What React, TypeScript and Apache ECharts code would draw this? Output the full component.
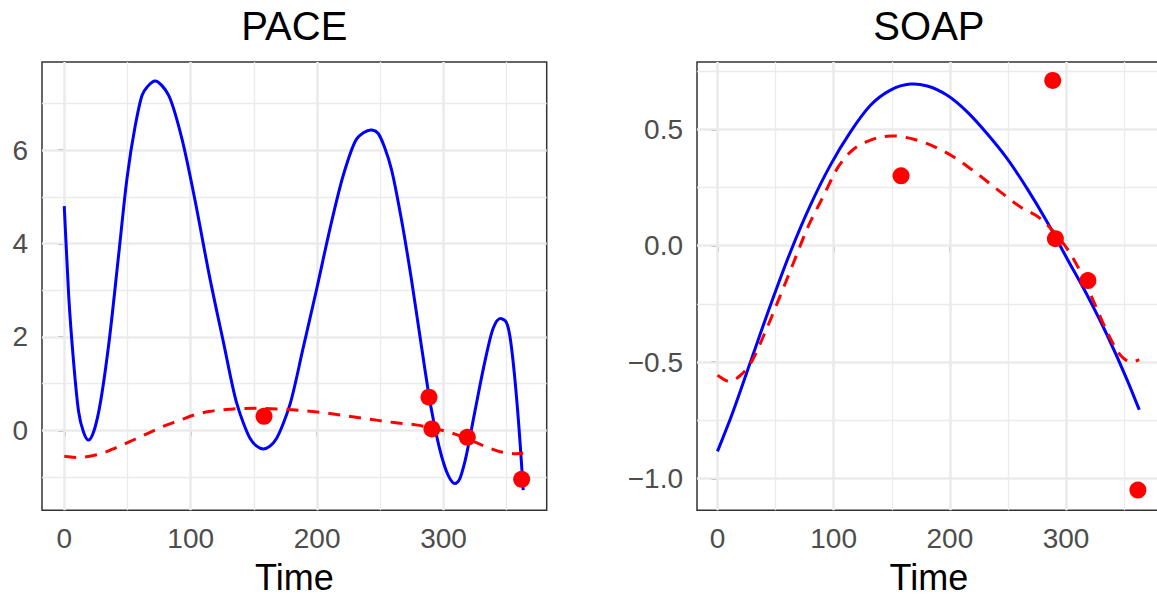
import React, { useEffect, useRef } from "react";
import * as echarts from "echarts";

// ---- data ----
const pointTime = [158, 288.5, 290.8, 318.8, 361.8];
const pointValue = [0.3, 0.71, 0.03, -0.15, -1.05];

const paceTime = [0, 3.5, 7.4, 11.4, 15.3, 19.3, 23.4, 27.2, 35.1, 43, 49.6, 56.2, 61.5, 66.2, 72, 77.3, 82.6, 93.1, 103.7, 114.5, 125.8, 136.4, 141.6, 146.9, 152.2, 157.4, 162.7, 168, 173.3, 178.6, 189.1, 199.7, 210.2, 220.7, 231.3, 236.6, 243.2, 248.2, 253.5, 258.7, 266.6, 274.5, 282.4, 290.3, 298.3, 303.6, 308.9, 312.8, 316.8, 324.7, 332.6, 339.2, 345.7, 352.4, 357.6, 361.6, 363];
const paceValue = [4.8, 2.89, 1.46, 0.39, -0.04, -0.21, -0.02, 0.39, 1.82, 3.75, 5.39, 6.53, 7.17, 7.37, 7.48, 7.38, 7.17, 6.24, 4.89, 3.35, 1.9, 0.58, 0.16, -0.17, -0.34, -0.4, -0.34, -0.17, 0.15, 0.56, 1.78, 3.03, 4.32, 5.46, 6.24, 6.37, 6.43, 6.36, 6.05, 5.6, 4.53, 3.25, 1.82, 0.46, -0.54, -0.96, -1.14, -1.04, -0.68, 0.39, 1.46, 2.18, 2.39, 2.03, 0.75, -0.68, -1.28];

const soapTime = [0, 11.2, 28.4, 45.6, 62.8, 80, 97.2, 114.5, 131.7, 148.9, 166.1, 180.5, 197.7, 214.9, 232.1, 249.3, 266.5, 283.7, 300.9, 318.2, 335.4, 352.6, 363];
const soapValue = [-0.884, -0.743, -0.5, -0.256, -0.027, 0.174, 0.346, 0.489, 0.603, 0.668, 0.694, 0.686, 0.646, 0.575, 0.481, 0.374, 0.245, 0.102, -0.056, -0.213, -0.385, -0.578, -0.705];

const meanTime = [0, 9.8, 21.3, 28.4, 39.9, 54.2, 65.7, 77.2, 91.6, 103, 114.5, 131.7, 148.9, 169, 180.5, 203.4, 223.5, 243.5, 260.8, 278, 289.5, 300.9, 312.4, 323.9, 335.4, 346.8, 355.4, 363];
const meanValue = [-0.557, -0.583, -0.55, -0.507, -0.385, -0.213, -0.07, 0.073, 0.217, 0.331, 0.403, 0.453, 0.471, 0.457, 0.438, 0.381, 0.309, 0.231, 0.166, 0.116, 0.059, -0.013, -0.113, -0.242, -0.371, -0.471, -0.5, -0.49];

const xMajor = [0, 100, 200, 300];
const xMinor = [50, 150, 250, 350];
const paceYMajor = [0, 2, 4, 6];
const paceYMinor = [-1, 1, 3, 5, 7];
const soapYMajor = [-1, -0.5, 0, 0.5];
const soapYMinor = [-0.75, -0.25, 0.25, 0.75];

const panelTitles = ["PACE", "SOAP"];
const xTitle = "Time";

const FONT = "'Liberation Sans', Arial, Helvetica, sans-serif";

function zip(a: number[], b: number[]) {
  return a.map((v, i) => [v, b[i]]);
}

function fmtSigned(v: number, digits: number) {
  const s = Math.abs(v).toFixed(digits);
  return v < 0 ? "\u2212" + s : s;
}

// smooth cubic Hermite path through pixel points (curve drawn through the data)
function smoothPath(p: number[][]) {
  const n = p.length;
  const m: number[] = [];
  for (let i = 0; i < n; i++) {
    if (i === 0) m.push((p[1][1] - p[0][1]) / (p[1][0] - p[0][0]));
    else if (i === n - 1) m.push((p[n - 1][1] - p[n - 2][1]) / (p[n - 1][0] - p[n - 2][0]));
    else {
      const h0 = p[i][0] - p[i - 1][0];
      const h1 = p[i + 1][0] - p[i][0];
      const d0 = (p[i][1] - p[i - 1][1]) / h0;
      const d1 = (p[i + 1][1] - p[i][1]) / h1;
      m.push((h1 * d0 + h0 * d1) / (h0 + h1));
    }
  }
  let d = `M${p[0][0]},${p[0][1]}`;
  for (let i = 0; i < n - 1; i++) {
    const h = p[i + 1][0] - p[i][0];
    const c1x = p[i][0] + h / 3;
    const c1y = p[i][1] + (m[i] * h) / 3;
    const c2x = p[i + 1][0] - h / 3;
    const c2y = p[i + 1][1] - (m[i + 1] * h) / 3;
    d += `C${c1x},${c1y},${c2x},${c2y},${p[i + 1][0]},${p[i + 1][1]}`;
  }
  return d;
}

export default function App() {
  const ref = useRef<HTMLDivElement>(null);
  useEffect(() => {
    document.body.style.margin = "0";
    if (!ref.current) return;
    const chart = echarts.init(ref.current, null, { renderer: "svg" });

    const grids = [
      { left: 42, top: 62, width: 504.7, height: 448.3 },
      { left: 697, top: 62, width: 463.9, height: 448.3 },
    ];

    const xAxis = [0, 1].map((i) => ({
      type: "value",
      gridIndex: i,
      min: -17.6,
      max: 381.6,
      name: xTitle,
      nameLocation: "middle",
      nameGap: 49,
      nameTextStyle: { fontSize: 36, color: "#000", fontFamily: FONT },
      axisLine: { show: false },
      axisTick: { show: true, customValues: xMajor, length: 6, lineStyle: { color: "#333333", width: 1.5 } },
      axisLabel: { customValues: xMajor, fontSize: 28, color: "#4D4D4D", fontFamily: FONT, margin: 14 },
      splitLine: { show: false },
    }));

    const yAxis = [
      {
        type: "value",
        gridIndex: 0,
        min: -1.713,
        max: 7.886,
        axisLine: { show: false },
        axisTick: { show: true, customValues: paceYMajor, length: 6, lineStyle: { color: "#333333", width: 1.5 } },
        axisLabel: { customValues: paceYMajor, fontSize: 28, color: "#4D4D4D", fontFamily: FONT, margin: 14, formatter: (v: number) => fmtSigned(v, 0) },
        splitLine: { show: false },
      },
      {
        type: "value",
        gridIndex: 1,
        min: -1.137,
        max: 0.789,
        axisLine: { show: false },
        axisTick: { show: true, customValues: soapYMajor, length: 6, lineStyle: { color: "#333333", width: 1.5 } },
        axisLabel: { customValues: soapYMajor, fontSize: 28, color: "#4D4D4D", fontFamily: FONT, margin: 14, formatter: (v: number) => fmtSigned(v, 1) },
        splitLine: { show: false },
      },
    ];

    const gridLines = (yMaj: number[], yMin: number[]) => {
      const minorStyle = { color: "#EBEBEB", width: 1.3, type: "solid" };
      const majorStyle = { color: "#EBEBEB", width: 2.6, type: "solid" };
      return [
        ...xMinor.map((v) => ({ xAxis: v, lineStyle: minorStyle })),
        ...yMin.map((v) => ({ yAxis: v, lineStyle: minorStyle })),
        ...xMajor.map((v) => ({ xAxis: v, lineStyle: majorStyle })),
        ...yMaj.map((v) => ({ yAxis: v, lineStyle: majorStyle })),
      ];
    };

    const markLineFor = (yMaj: number[], yMin: number[]) => ({
      silent: true,
      z: 1,
      symbol: ["none", "none"],
      label: { show: false },
      emphasis: { disabled: true },
      animation: false,
      data: gridLines(yMaj, yMin),
    });

    const curveSeries = (i: number, t: number[], v: number[], color: string, dash: number[] | null, z: number) => ({
      type: "custom",
      xAxisIndex: i,
      yAxisIndex: i,
      z,
      silent: true,
      data: zip(t, v),
      renderItem: (params: any, api: any) => {
        if (params.dataIndex !== 0) return null;
        const pts = t.map((tt, k) => api.coord([tt, v[k]]));
        return {
          type: "path",
          shape: { pathData: smoothPath(pts) },
          style: { fill: "none", stroke: color, lineWidth: 3, lineDash: dash || undefined, lineCap: "butt" },
        };
      },
    });

    const pointSeries = (i: number, yMaj: number[], yMin: number[]) => ({
      type: "scatter",
      xAxisIndex: i,
      yAxisIndex: i,
      data: zip(pointTime, pointValue),
      symbolSize: 17,
      z: 5,
      itemStyle: { color: "#FF0000", opacity: 1 },
      markLine: markLineFor(yMaj, yMin),
    });

    chart.setOption({
      animation: false,
      grid: grids.map((g) => ({ ...g, outerBoundsMode: "none", containLabel: false, show: true, borderColor: "#333333", borderWidth: 1.5, backgroundColor: "transparent" })),
      xAxis,
      yAxis,
      graphic: panelTitles.map((t, i) => ({
        type: "text",
        x: grids[i].left + grids[i].width / 2,
        y: 26,
        style: { text: t, textAlign: "center", textVerticalAlign: "middle", fontSize: 40, fill: "#000", fontFamily: FONT },
      })),
      series: [
        curveSeries(0, paceTime, paceValue, "#0000FF", null, 3),
        curveSeries(0, meanTime, meanValue, "#FF0000", [12, 9], 4),
        pointSeries(0, paceYMajor, paceYMinor),
        curveSeries(1, soapTime, soapValue, "#0000FF", null, 3),
        curveSeries(1, meanTime, meanValue, "#FF0000", [12, 9], 4),
        pointSeries(1, soapYMajor, soapYMinor),
      ],
    });
    return () => chart.dispose();
  }, []);
  return <div ref={ref} style={{ width: 1157, height: 597 }} />;
}
